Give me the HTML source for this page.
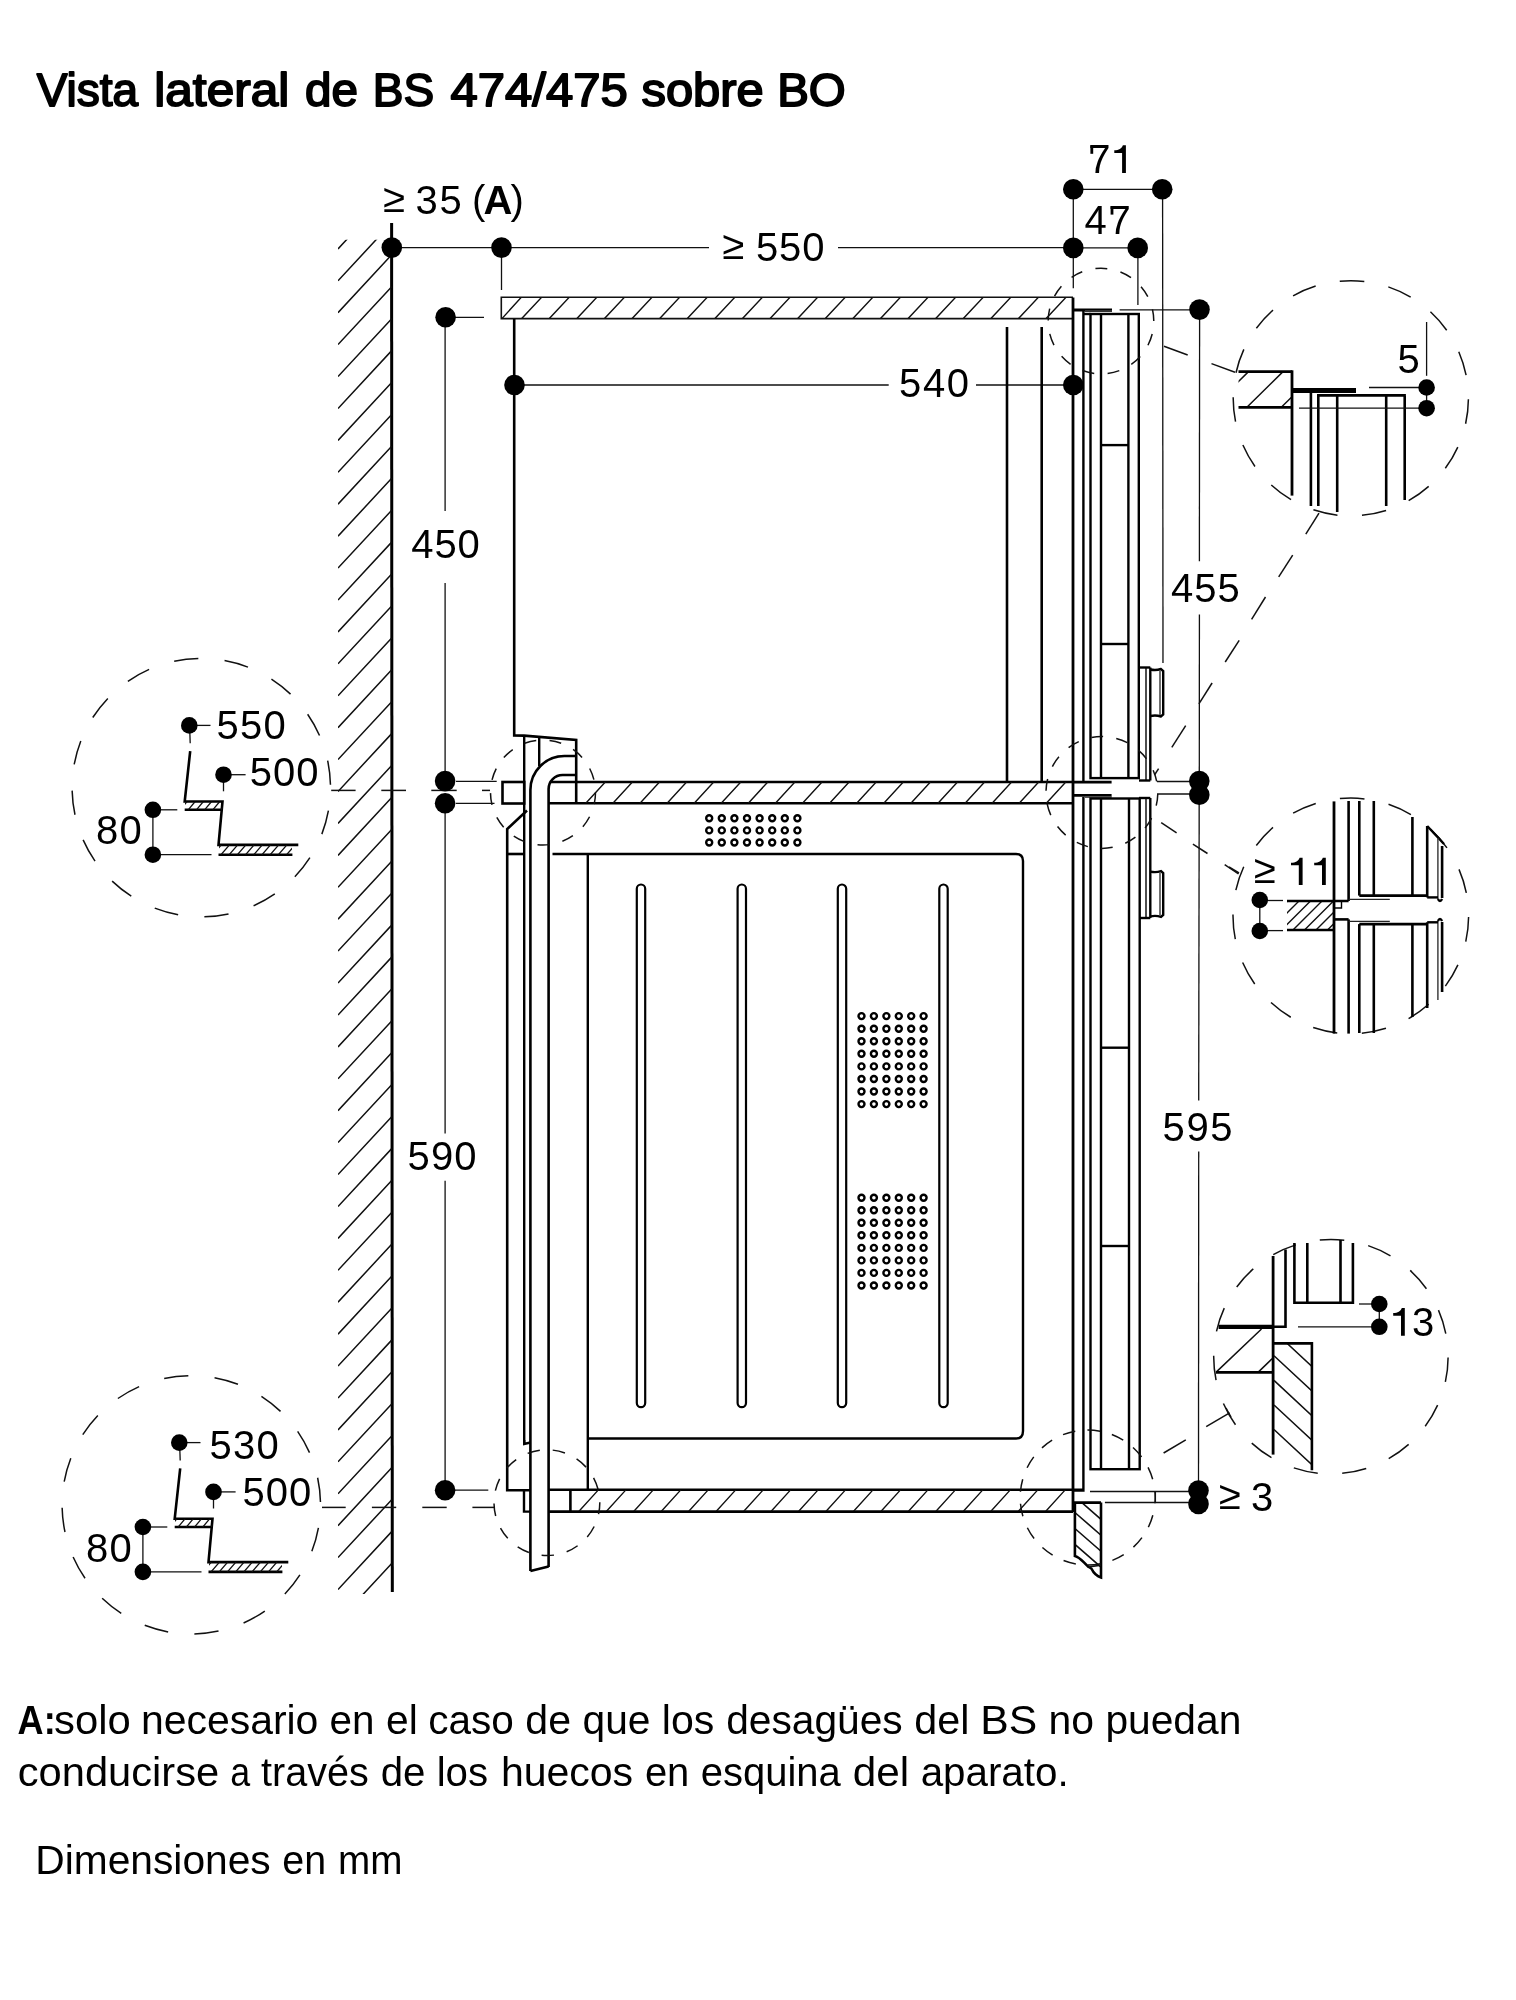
<!DOCTYPE html>
<html><head><meta charset="utf-8"><style>
html,body{margin:0;padding:0;background:#fff;}
svg{display:block;}
text{font-family:"Liberation Sans",sans-serif;fill:#000;}
svg{will-change:transform;}
</style></head><body>
<svg width="1516" height="2000" viewBox="0 0 1516 2000" stroke-linecap="butt">
<text x="36.7" y="105.9" font-size="46.00" textLength="101.4" lengthAdjust="spacingAndGlyphs" stroke="#000" stroke-width="1.8" stroke-linejoin="round">Vista</text>
<text x="154.3" y="105.9" font-size="46.00" textLength="135.0" lengthAdjust="spacingAndGlyphs" stroke="#000" stroke-width="1.8" stroke-linejoin="round">lateral</text>
<text x="305.1" y="105.9" font-size="46.00" textLength="52.9" lengthAdjust="spacingAndGlyphs" stroke="#000" stroke-width="1.8" stroke-linejoin="round">de</text>
<text x="372.8" y="105.9" font-size="46.00" textLength="61.3" lengthAdjust="spacingAndGlyphs" stroke="#000" stroke-width="1.8" stroke-linejoin="round">BS</text>
<text x="450.5" y="105.9" font-size="46.00" textLength="177.2" lengthAdjust="spacingAndGlyphs" stroke="#000" stroke-width="1.8" stroke-linejoin="round">474/475</text>
<text x="641.5" y="105.9" font-size="46.00" textLength="122.2" lengthAdjust="spacingAndGlyphs" stroke="#000" stroke-width="1.8" stroke-linejoin="round">sobre</text>
<text x="777.2" y="105.9" font-size="46.00" textLength="68.6" lengthAdjust="spacingAndGlyphs" stroke="#000" stroke-width="1.8" stroke-linejoin="round">BO</text>
<line x1="391.6" y1="223" x2="392.3" y2="1592" stroke="#000" stroke-width="3"/>
<clipPath id="wc"><rect x="338" y="239.7" width="53.7" height="1354.3"/></clipPath>
<path d="M338,185.0L391.7,127.1M338,217.0L391.7,159.1M338,248.9L391.7,191.0M338,280.8L391.7,222.9M338,312.7L391.7,254.8M338,344.6L391.7,286.7M338,376.6L391.7,318.7M338,408.5L391.7,350.6M338,440.4L391.7,382.5M338,472.3L391.7,414.4M338,504.2L391.7,446.3M338,536.2L391.7,478.3M338,568.1L391.7,510.2M338,600.0L391.7,542.1M338,631.9L391.7,574.0M338,663.8L391.7,605.9M338,695.8L391.7,637.9M338,727.7L391.7,669.8M338,759.6L391.7,701.7M338,791.5L391.7,733.6M338,823.4L391.7,765.5M338,855.4L391.7,797.5M338,887.3L391.7,829.4M338,919.2L391.7,861.3M338,951.1L391.7,893.2M338,983.0L391.7,925.1M338,1015.0L391.7,957.1M338,1046.9L391.7,989.0M338,1078.8L391.7,1020.9M338,1110.7L391.7,1052.8M338,1142.6L391.7,1084.7M338,1174.6L391.7,1116.7M338,1206.5L391.7,1148.6M338,1238.4L391.7,1180.5M338,1270.3L391.7,1212.4M338,1302.2L391.7,1244.3M338,1334.2L391.7,1276.3M338,1366.1L391.7,1308.2M338,1398.0L391.7,1340.1M338,1429.9L391.7,1372.0M338,1461.8L391.7,1403.9M338,1493.8L391.7,1435.9M338,1525.7L391.7,1467.8M338,1557.6L391.7,1499.7M338,1589.5L391.7,1531.6M338,1621.4L391.7,1563.5M338,1653.4L391.7,1595.5M338,1685.3L391.7,1627.4" stroke="#111" stroke-width="1.5" clip-path="url(#wc)"/>
<text x="383.3" y="212.1" font-size="40">≥</text>
<text x="415.5" y="214.2" font-size="40.00" textLength="46.3" lengthAdjust="spacing">35</text>
<text x="472.1" y="214.1" font-size="40.00" textLength="51.8" lengthAdjust="spacing">(<tspan font-weight="bold">A</tspan>)</text>
<line x1="391.8" y1="247.6" x2="709" y2="247.6" stroke="#111" stroke-width="1.3"/>
<text x="722.5" y="259.0" font-size="40">≥</text>
<text x="755.9" y="261.3" font-size="40.00" textLength="68.6" lengthAdjust="spacing">550</text>
<line x1="838" y1="247.6" x2="1073.3" y2="247.6" stroke="#111" stroke-width="1.3"/>
<line x1="501.5" y1="247.6" x2="501.5" y2="290" stroke="#111" stroke-width="1.3"/>
<line x1="1073.3" y1="189.3" x2="1162.2" y2="189.3" stroke="#111" stroke-width="1.3"/>
<line x1="1073.3" y1="247.9" x2="1137.7" y2="247.9" stroke="#111" stroke-width="1.3"/>
<text x="1088.3" y="173.0" font-size="40">7</text>
<rect x="1090.4" y="145.6" width="2.8" height="8.2" fill="#000"/>
<path d="M1125.9,145.3L1125.9,173.0L1122.1,173.0L1122.1,152.9L1114.3,152.9L1114.3,150.3C1119.1,150.3 1121.5,148.5 1122.9,145.3Z" fill="#000"/>
<text x="1084.6" y="233.7" font-size="40">4</text>
<text x="1108.5" y="233.7" font-size="40">7</text>
<rect x="1110.6" y="206.3" width="2.8" height="8.3" fill="#000"/>
<line x1="1073.3" y1="189.3" x2="1073.3" y2="288.3" stroke="#111" stroke-width="1.3"/>
<line x1="1137.9" y1="247.9" x2="1137.9" y2="305" stroke="#111" stroke-width="1.3"/>
<line x1="1162.6" y1="189.3" x2="1163" y2="663" stroke="#111" stroke-width="1.3"/>
<clipPath id="h1"><rect x="501.3" y="297.3" width="571" height="21.3"/></clipPath>
<path d="M501.9,318.6L521.3,297.3M521.7,318.6L541.6,297.3M549.3,318.6L569.2,297.3M576.9,318.6L596.8,297.3M604.5,318.6L624.4,297.3M632.1,318.6L652.0,297.3M659.7,318.6L679.6,297.3M687.3,318.6L707.2,297.3M714.9,318.6L734.8,297.3M742.5,318.6L762.4,297.3M770.1,318.6L790.0,297.3M797.7,318.6L817.6,297.3M825.3,318.6L845.2,297.3M852.9,318.6L872.8,297.3M880.5,318.6L900.4,297.3M908.1,318.6L928.0,297.3M935.7,318.6L955.6,297.3M963.3,318.6L983.2,297.3M990.9,318.6L1010.8,297.3M1018.5,318.6L1038.4,297.3M1046.1,318.6L1066.0,297.3M1073.7,318.6L1093.6,297.3" stroke="#111" stroke-width="1.4" clip-path="url(#h1)"/>
<polyline points="1073,297.3 501.3,297.3 501.3,318.6 1073,318.6" fill="none" stroke="#111" stroke-width="1.6"/>
<line x1="445.6" y1="317.3" x2="484" y2="317.3" stroke="#111" stroke-width="1.3"/>
<line x1="445.1" y1="317.3" x2="445.1" y2="511" stroke="#111" stroke-width="1.3"/>
<line x1="445.1" y1="583" x2="445.1" y2="781" stroke="#111" stroke-width="1.3"/>
<text x="411.2" y="558.1" font-size="40.00" textLength="68.6" lengthAdjust="spacing">450</text>
<line x1="514.5" y1="385" x2="888.7" y2="385" stroke="#111" stroke-width="1.3"/>
<text x="899.1" y="396.5" font-size="40.00" textLength="70.0" lengthAdjust="spacing">540</text>
<line x1="976" y1="385" x2="1073.3" y2="385" stroke="#111" stroke-width="1.3"/>
<polyline points="514.2,319 514.2,735.4 524,735.6 576.2,740 576.2,803.3" fill="none" stroke="#000" stroke-width="2.6" stroke-linejoin="miter"/>
<line x1="1007" y1="327" x2="1007" y2="781" stroke="#000" stroke-width="2.6"/>
<line x1="1041.7" y1="327" x2="1041.7" y2="781" stroke="#000" stroke-width="2.6"/>
<line x1="524.2" y1="736" x2="524.2" y2="1444" stroke="#000" stroke-width="2.4"/>
<line x1="539.2" y1="737" x2="539.2" y2="766" stroke="#000" stroke-width="2.4"/>
<path d="M530.4,1571 L530.4,790 A34,34 0 0 1 564.4,756 L576.2,756" fill="none" stroke="#000" stroke-width="2.6"/>
<path d="M548.6,1567 L548.6,789 A14,14 0 0 1 562.6,775 L576.2,775" fill="none" stroke="#000" stroke-width="2.6"/>
<line x1="530.4" y1="1571" x2="548.6" y2="1566.5" stroke="#000" stroke-width="2.6"/>
<rect x="502.5" y="782" width="21.7" height="21.5" fill="none" stroke="#000" stroke-width="2.6"/>
<line x1="551" y1="782" x2="1073" y2="782" stroke="#000" stroke-width="2.6"/>
<line x1="548.6" y1="803.3" x2="1073" y2="803.3" stroke="#000" stroke-width="2.6"/>
<clipPath id="h2"><rect x="576.2" y="782" width="497" height="21.3"/></clipPath>
<path d="M585.8,803.3L605.3,782M612.9,803.3L632.4,782M640.0,803.3L659.5,782M667.1,803.3L686.6,782M694.2,803.3L713.7,782M721.2,803.3L740.8,782M748.3,803.3L767.8,782M775.4,803.3L794.9,782M802.5,803.3L822.0,782M829.6,803.3L849.1,782M856.7,803.3L876.2,782M883.8,803.3L903.3,782M910.9,803.3L930.4,782M938.0,803.3L957.5,782M965.1,803.3L984.6,782M992.1,803.3L1011.6,782M1019.2,803.3L1038.7,782M1046.3,803.3L1065.8,782M1073.4,803.3L1092.9,782" stroke="#111" stroke-width="1.4" clip-path="url(#h2)"/>
<line x1="445.1" y1="803.3" x2="445.1" y2="1133.6" stroke="#111" stroke-width="1.3"/>
<line x1="445.1" y1="1180.8" x2="445.1" y2="1490.2" stroke="#111" stroke-width="1.3"/>
<text x="407.4" y="1169.7" font-size="40.00" textLength="69.2" lengthAdjust="spacing">590</text>
<line x1="445.1" y1="1490.2" x2="488.3" y2="1490.2" stroke="#111" stroke-width="1.3"/>
<line x1="456" y1="781.3" x2="496.7" y2="781.3" stroke="#111" stroke-width="1.3"/>
<line x1="456" y1="803.4" x2="494.5" y2="803.4" stroke="#111" stroke-width="1.3"/>
<polyline points="527,810.5 507.2,829 507.2,1490.2 530.4,1490.2" fill="none" stroke="#000" stroke-width="2.6" stroke-linejoin="miter"/>
<line x1="507.2" y1="854" x2="524.2" y2="854" stroke="#000" stroke-width="2.6"/>
<path d="M552.5,854 L1016,854 Q1023,854 1023,861 L1023,1431 Q1023,1438.5 1016,1438.5 L587.8,1438.5" fill="none" stroke="#000" stroke-width="2.4"/>
<line x1="587.8" y1="854" x2="587.8" y2="1490" stroke="#000" stroke-width="2.4"/>
<polyline points="524,1490 524,1511.6 530.4,1511.6" fill="none" stroke="#000" stroke-width="2.4" stroke-linejoin="miter"/>
<polyline points="524.2,1440 524.2,1444 530.4,1442.5" fill="none" stroke="#000" stroke-width="2.4" stroke-linejoin="miter"/>
<path d="M636.8,1403 L636.8,888.7 A4.2,4.2 0 0 1 645.2,888.7 L645.2,1403 A4.2,4.2 0 0 1 636.8,1403 Z" fill="none" stroke="#000" stroke-width="2.2"/>
<path d="M737.6,1403 L737.6,888.7 A4.2,4.2 0 0 1 746.0,888.7 L746.0,1403 A4.2,4.2 0 0 1 737.6,1403 Z" fill="none" stroke="#000" stroke-width="2.2"/>
<path d="M837.8,1403 L837.8,888.7 A4.2,4.2 0 0 1 846.2,888.7 L846.2,1403 A4.2,4.2 0 0 1 837.8,1403 Z" fill="none" stroke="#000" stroke-width="2.2"/>
<path d="M939.3,1403 L939.3,888.7 A4.2,4.2 0 0 1 947.7,888.7 L947.7,1403 A4.2,4.2 0 0 1 939.3,1403 Z" fill="none" stroke="#000" stroke-width="2.2"/>
<g fill="none" stroke="#000" stroke-width="2.4"><circle cx="709.2" cy="818.3" r="3"/><circle cx="709.2" cy="830.4" r="3"/><circle cx="709.2" cy="842.5" r="3"/><circle cx="721.8" cy="818.3" r="3"/><circle cx="721.8" cy="830.4" r="3"/><circle cx="721.8" cy="842.5" r="3"/><circle cx="734.4" cy="818.3" r="3"/><circle cx="734.4" cy="830.4" r="3"/><circle cx="734.4" cy="842.5" r="3"/><circle cx="747.0" cy="818.3" r="3"/><circle cx="747.0" cy="830.4" r="3"/><circle cx="747.0" cy="842.5" r="3"/><circle cx="759.6" cy="818.3" r="3"/><circle cx="759.6" cy="830.4" r="3"/><circle cx="759.6" cy="842.5" r="3"/><circle cx="772.2" cy="818.3" r="3"/><circle cx="772.2" cy="830.4" r="3"/><circle cx="772.2" cy="842.5" r="3"/><circle cx="784.8" cy="818.3" r="3"/><circle cx="784.8" cy="830.4" r="3"/><circle cx="784.8" cy="842.5" r="3"/><circle cx="797.4" cy="818.3" r="3"/><circle cx="797.4" cy="830.4" r="3"/><circle cx="797.4" cy="842.5" r="3"/><circle cx="861.5" cy="1016.1" r="3"/><circle cx="861.5" cy="1197.7" r="3"/><circle cx="861.5" cy="1028.7" r="3"/><circle cx="861.5" cy="1210.2" r="3"/><circle cx="861.5" cy="1041.2" r="3"/><circle cx="861.5" cy="1222.8" r="3"/><circle cx="861.5" cy="1053.8" r="3"/><circle cx="861.5" cy="1235.3" r="3"/><circle cx="861.5" cy="1066.4" r="3"/><circle cx="861.5" cy="1247.9" r="3"/><circle cx="861.5" cy="1079.0" r="3"/><circle cx="861.5" cy="1260.4" r="3"/><circle cx="861.5" cy="1091.5" r="3"/><circle cx="861.5" cy="1272.9" r="3"/><circle cx="861.5" cy="1104.1" r="3"/><circle cx="861.5" cy="1285.5" r="3"/><circle cx="873.9" cy="1016.1" r="3"/><circle cx="873.9" cy="1197.7" r="3"/><circle cx="873.9" cy="1028.7" r="3"/><circle cx="873.9" cy="1210.2" r="3"/><circle cx="873.9" cy="1041.2" r="3"/><circle cx="873.9" cy="1222.8" r="3"/><circle cx="873.9" cy="1053.8" r="3"/><circle cx="873.9" cy="1235.3" r="3"/><circle cx="873.9" cy="1066.4" r="3"/><circle cx="873.9" cy="1247.9" r="3"/><circle cx="873.9" cy="1079.0" r="3"/><circle cx="873.9" cy="1260.4" r="3"/><circle cx="873.9" cy="1091.5" r="3"/><circle cx="873.9" cy="1272.9" r="3"/><circle cx="873.9" cy="1104.1" r="3"/><circle cx="873.9" cy="1285.5" r="3"/><circle cx="886.4" cy="1016.1" r="3"/><circle cx="886.4" cy="1197.7" r="3"/><circle cx="886.4" cy="1028.7" r="3"/><circle cx="886.4" cy="1210.2" r="3"/><circle cx="886.4" cy="1041.2" r="3"/><circle cx="886.4" cy="1222.8" r="3"/><circle cx="886.4" cy="1053.8" r="3"/><circle cx="886.4" cy="1235.3" r="3"/><circle cx="886.4" cy="1066.4" r="3"/><circle cx="886.4" cy="1247.9" r="3"/><circle cx="886.4" cy="1079.0" r="3"/><circle cx="886.4" cy="1260.4" r="3"/><circle cx="886.4" cy="1091.5" r="3"/><circle cx="886.4" cy="1272.9" r="3"/><circle cx="886.4" cy="1104.1" r="3"/><circle cx="886.4" cy="1285.5" r="3"/><circle cx="898.8" cy="1016.1" r="3"/><circle cx="898.8" cy="1197.7" r="3"/><circle cx="898.8" cy="1028.7" r="3"/><circle cx="898.8" cy="1210.2" r="3"/><circle cx="898.8" cy="1041.2" r="3"/><circle cx="898.8" cy="1222.8" r="3"/><circle cx="898.8" cy="1053.8" r="3"/><circle cx="898.8" cy="1235.3" r="3"/><circle cx="898.8" cy="1066.4" r="3"/><circle cx="898.8" cy="1247.9" r="3"/><circle cx="898.8" cy="1079.0" r="3"/><circle cx="898.8" cy="1260.4" r="3"/><circle cx="898.8" cy="1091.5" r="3"/><circle cx="898.8" cy="1272.9" r="3"/><circle cx="898.8" cy="1104.1" r="3"/><circle cx="898.8" cy="1285.5" r="3"/><circle cx="911.2" cy="1016.1" r="3"/><circle cx="911.2" cy="1197.7" r="3"/><circle cx="911.2" cy="1028.7" r="3"/><circle cx="911.2" cy="1210.2" r="3"/><circle cx="911.2" cy="1041.2" r="3"/><circle cx="911.2" cy="1222.8" r="3"/><circle cx="911.2" cy="1053.8" r="3"/><circle cx="911.2" cy="1235.3" r="3"/><circle cx="911.2" cy="1066.4" r="3"/><circle cx="911.2" cy="1247.9" r="3"/><circle cx="911.2" cy="1079.0" r="3"/><circle cx="911.2" cy="1260.4" r="3"/><circle cx="911.2" cy="1091.5" r="3"/><circle cx="911.2" cy="1272.9" r="3"/><circle cx="911.2" cy="1104.1" r="3"/><circle cx="911.2" cy="1285.5" r="3"/><circle cx="923.6" cy="1016.1" r="3"/><circle cx="923.6" cy="1197.7" r="3"/><circle cx="923.6" cy="1028.7" r="3"/><circle cx="923.6" cy="1210.2" r="3"/><circle cx="923.6" cy="1041.2" r="3"/><circle cx="923.6" cy="1222.8" r="3"/><circle cx="923.6" cy="1053.8" r="3"/><circle cx="923.6" cy="1235.3" r="3"/><circle cx="923.6" cy="1066.4" r="3"/><circle cx="923.6" cy="1247.9" r="3"/><circle cx="923.6" cy="1079.0" r="3"/><circle cx="923.6" cy="1260.4" r="3"/><circle cx="923.6" cy="1091.5" r="3"/><circle cx="923.6" cy="1272.9" r="3"/><circle cx="923.6" cy="1104.1" r="3"/><circle cx="923.6" cy="1285.5" r="3"/></g>
<line x1="548.6" y1="1489.8" x2="1083" y2="1489.8" stroke="#000" stroke-width="2.6"/>
<line x1="548.6" y1="1511.6" x2="1073" y2="1511.6" stroke="#000" stroke-width="2.6"/>
<line x1="570.4" y1="1489.8" x2="570.4" y2="1511.6" stroke="#000" stroke-width="2.6"/>
<clipPath id="h3"><rect x="570.4" y="1489.8" width="503" height="21.8"/></clipPath>
<path d="M579.0,1511.2L598.4,1489.9M606.5,1511.2L625.9,1489.9M633.9,1511.2L653.3,1489.9M661.4,1511.2L680.8,1489.9M688.8,1511.2L708.2,1489.9M716.3,1511.2L735.7,1489.9M743.8,1511.2L763.2,1489.9M771.2,1511.2L790.6,1489.9M798.7,1511.2L818.1,1489.9M826.1,1511.2L845.5,1489.9M853.6,1511.2L873.0,1489.9M881.1,1511.2L900.5,1489.9M908.5,1511.2L927.9,1489.9M936.0,1511.2L955.4,1489.9M963.4,1511.2L982.8,1489.9M990.9,1511.2L1010.3,1489.9M1018.4,1511.2L1037.8,1489.9M1045.8,1511.2L1065.2,1489.9M1073.3,1511.2L1092.7,1489.9" stroke="#111" stroke-width="1.4" clip-path="url(#h3)"/>
<line x1="1073" y1="297.4" x2="1073" y2="1512" stroke="#000" stroke-width="2.8"/>
<line x1="1073" y1="309.9" x2="1112" y2="309.9" stroke="#000" stroke-width="3"/>
<line x1="1085" y1="311" x2="1112" y2="311" stroke="#333" stroke-width="2"/>
<line x1="1083.4" y1="310" x2="1083.4" y2="782" stroke="#000" stroke-width="2.4"/>
<rect x="1090.5" y="314" width="48.3" height="464.1" fill="none" stroke="#000" stroke-width="2.4"/>
<line x1="1101" y1="314" x2="1101" y2="778" stroke="#000" stroke-width="2.4"/>
<line x1="1128.4" y1="314" x2="1128.4" y2="778" stroke="#000" stroke-width="2.4"/>
<line x1="1073" y1="782.1" x2="1111.6" y2="782.1" stroke="#000" stroke-width="2.6"/>
<line x1="1083.4" y1="314" x2="1090.5" y2="314" stroke="#000" stroke-width="2.4"/>
<line x1="1101" y1="445.1" x2="1128.4" y2="445.1" stroke="#000" stroke-width="2.4"/>
<line x1="1101" y1="644" x2="1128.4" y2="644" stroke="#000" stroke-width="2.4"/>
<polyline points="1073,795.4 1111.6,795.4" fill="none" stroke="#000" stroke-width="2.6" stroke-linejoin="miter"/>
<line x1="1085" y1="797.2" x2="1111.6" y2="797.2" stroke="#555" stroke-width="1.6"/>
<polyline points="1083.4,797 1083.4,1490.6 1073,1490.6" fill="none" stroke="#000" stroke-width="2.4" stroke-linejoin="miter"/>
<rect x="1090.5" y="798.5" width="49.2" height="670.7" fill="none" stroke="#000" stroke-width="2.4"/>
<line x1="1101" y1="798.5" x2="1101" y2="1469.2" stroke="#000" stroke-width="2.4"/>
<line x1="1129" y1="798.5" x2="1129" y2="1469.2" stroke="#000" stroke-width="2.4"/>
<line x1="1101" y1="1047.7" x2="1129" y2="1047.7" stroke="#000" stroke-width="2.4"/>
<line x1="1101" y1="1246" x2="1129" y2="1246" stroke="#000" stroke-width="2.4"/>
<line x1="1146" y1="667.5" x2="1146" y2="780.5" stroke="#222" stroke-width="1.6"/>
<line x1="1150.3" y1="667.5" x2="1150.3" y2="780.5" stroke="#000" stroke-width="2.4"/>
<line x1="1139" y1="667.5" x2="1150.3" y2="667.5" stroke="#000" stroke-width="2.4"/>
<line x1="1139" y1="780.5" x2="1150.3" y2="780.5" stroke="#000" stroke-width="2.4"/>
<path d="M1150.3,669.5 Q1156,670.7 1161,669.0 L1163.2,671.0 L1163.2,714.5 L1161,716.5 Q1156,714.8 1150.3,716" fill="none" stroke="#000" stroke-width="2.4"/>
<line x1="1160" y1="670.5" x2="1160" y2="715" stroke="#333" stroke-width="1.4"/>
<line x1="1146" y1="798" x2="1146" y2="918" stroke="#222" stroke-width="1.6"/>
<line x1="1150.3" y1="798" x2="1150.3" y2="918" stroke="#000" stroke-width="2.4"/>
<line x1="1139" y1="798" x2="1150.3" y2="798" stroke="#000" stroke-width="2.4"/>
<line x1="1139" y1="918" x2="1150.3" y2="918" stroke="#000" stroke-width="2.4"/>
<path d="M1150.3,871.6 Q1156,872.8000000000001 1161,871.1 L1163.2,873.1 L1163.2,914.9 L1161,916.9 Q1156,915.1999999999999 1150.3,916.4" fill="none" stroke="#000" stroke-width="2.4"/>
<line x1="1160" y1="872.6" x2="1160" y2="915.4" stroke="#333" stroke-width="1.4"/>
<clipPath id="h4"><polygon points="1074.9,1502.6 1101,1502.6 1101,1577.4 1091.4,1568 1088.6,1566.9 1074.9,1555.9"/></clipPath>
<path d="M1074.9,1496.5L1101,1519.3M1074.9,1512.5L1101,1535.2M1074.9,1528.5L1101,1551.2M1074.9,1544.4L1101,1567.1" stroke="#111" stroke-width="1.6" clip-path="url(#h4)"/>
<path d="M1101,1502.6 L1074.9,1502.6 L1074.9,1555.9 C1080,1557 1083,1562 1088.6,1566.9 C1090.5,1568 1091.4,1568 1092,1569.5 C1094,1574 1097,1576 1101,1577.4 L1101,1502.6" fill="none" stroke="#000" stroke-width="2.6"/>
<line x1="1088.6" y1="1566.9" x2="1100.7" y2="1565.2" stroke="#111" stroke-width="1.6"/>
<line x1="1119.6" y1="309.9" x2="1199.5" y2="309.9" stroke="#111" stroke-width="1.3"/>
<line x1="1199.6" y1="309.6" x2="1199.4" y2="561.2" stroke="#111" stroke-width="1.3"/>
<line x1="1199.4" y1="614.4" x2="1199.3" y2="781" stroke="#111" stroke-width="1.3"/>
<text x="1170.9" y="602.4" font-size="40.00" textLength="68.9" lengthAdjust="spacing">455</text>
<line x1="1157" y1="781.5" x2="1199.3" y2="781.5" stroke="#111" stroke-width="1.3"/>
<line x1="1157" y1="794" x2="1199.3" y2="794" stroke="#111" stroke-width="1.3"/>
<line x1="1199.2" y1="794.8" x2="1198.7" y2="1100.5" stroke="#111" stroke-width="1.3"/>
<line x1="1198.7" y1="1151.5" x2="1198.5" y2="1490" stroke="#111" stroke-width="1.3"/>
<text x="1162.6" y="1140.5" font-size="40.00" textLength="69.8" lengthAdjust="spacing">595</text>
<line x1="1090" y1="1491.5" x2="1198.5" y2="1491.5" stroke="#111" stroke-width="1.3"/>
<line x1="1104.9" y1="1502.5" x2="1198.5" y2="1502.5" stroke="#111" stroke-width="1.3"/>
<line x1="1155.4" y1="1491.5" x2="1155.4" y2="1503" stroke="#111" stroke-width="1.3"/>
<text x="1219.1" y="1509.1" font-size="40">≥</text>
<text x="1251.0" y="1510.9" font-size="40">3</text>
<circle cx="1101" cy="321.1" r="52.8" fill="none" stroke="#111" stroke-width="1.5" stroke-dasharray="11.99 13.53" stroke-dashoffset="12.43"/>
<circle cx="1101.9" cy="792.5" r="55.9" fill="none" stroke="#111" stroke-width="1.5" stroke-dasharray="11.79 13.30" stroke-dashoffset="23.53"/>
<circle cx="543" cy="792.5" r="52.5" fill="none" stroke="#111" stroke-width="1.5" stroke-dasharray="11.93 13.45" stroke-dashoffset="0.18"/>
<circle cx="546.9" cy="1502.7" r="52.9" fill="none" stroke="#111" stroke-width="1.5" stroke-dasharray="12.53 13.04" stroke-dashoffset="0.92"/>
<circle cx="1087.7" cy="1497.5" r="67.5" fill="none" stroke="#111" stroke-width="1.5" stroke-dasharray="12.72 12.22" stroke-dashoffset="6.92"/>
<line x1="1164" y1="346.2" x2="1187.7" y2="355" stroke="#111" stroke-width="1.5"/>
<line x1="1211.5" y1="363.6" x2="1235" y2="372.2" stroke="#111" stroke-width="1.5"/>
<line x1="1319" y1="513.2" x2="1305.8" y2="534.2" stroke="#111" stroke-width="1.5"/>
<line x1="1292.7" y1="555.1" x2="1278.7" y2="576.8" stroke="#111" stroke-width="1.5"/>
<line x1="1265.5" y1="597" x2="1251.6" y2="619.4" stroke="#111" stroke-width="1.5"/>
<line x1="1239.2" y1="640.3" x2="1225.2" y2="662" stroke="#111" stroke-width="1.5"/>
<line x1="1212.1" y1="683" x2="1198.9" y2="703.9" stroke="#111" stroke-width="1.5"/>
<line x1="1185.7" y1="725.6" x2="1171.8" y2="747.3" stroke="#111" stroke-width="1.5"/>
<line x1="1158.6" y1="768.6" x2="1154.5" y2="775" stroke="#111" stroke-width="1.5"/>
<line x1="1161.2" y1="822.6" x2="1176.6" y2="832.9" stroke="#111" stroke-width="1.5"/>
<line x1="1192.9" y1="844.1" x2="1207.5" y2="853.5" stroke="#111" stroke-width="1.5"/>
<line x1="1224.7" y1="864.7" x2="1238.5" y2="874" stroke="#111" stroke-width="1.5"/>
<line x1="1163.6" y1="1453" x2="1185.8" y2="1439.8" stroke="#111" stroke-width="1.5"/>
<line x1="1206.2" y1="1426.6" x2="1229.6" y2="1412.8" stroke="#111" stroke-width="1.5"/>
<line x1="1226" y1="1408" x2="1231" y2="1417" stroke="#111" stroke-width="1.5"/>
<line x1="1229" y1="867" x2="1239" y2="873" stroke="#111" stroke-width="1.5"/>
<line x1="331.2" y1="790.4" x2="355.6" y2="790.4" stroke="#111" stroke-width="1.5"/>
<line x1="381.3" y1="790.4" x2="406" y2="790.4" stroke="#111" stroke-width="1.5"/>
<line x1="431.3" y1="790.4" x2="456.7" y2="790.4" stroke="#111" stroke-width="1.5"/>
<line x1="482" y1="790.4" x2="490" y2="790.4" stroke="#111" stroke-width="1.5"/>
<line x1="322" y1="1507.4" x2="345.7" y2="1507.4" stroke="#111" stroke-width="1.5"/>
<line x1="371.9" y1="1507.4" x2="396.2" y2="1507.4" stroke="#111" stroke-width="1.5"/>
<line x1="422.3" y1="1507.4" x2="446.7" y2="1507.4" stroke="#111" stroke-width="1.5"/>
<line x1="472.4" y1="1507.4" x2="494.2" y2="1507.4" stroke="#111" stroke-width="1.5"/>
<circle cx="1350.8" cy="398.3" r="117.6" fill="none" stroke="#111" stroke-width="1.5" stroke-dasharray="24.63 24.63" stroke-dashoffset="48.23"/>
<clipPath id="h5"><rect x="1238.5" y="371.6" width="53.5" height="35.7"/></clipPath>
<path d="M1246.9,407.3L1282.5,372.1M1281.3,407.3L1316.9,372.1M1212.5,407.3L1248,372.1" stroke="#111" stroke-width="1.5" clip-path="url(#h5)"/>
<line x1="1238.5" y1="371.6" x2="1292" y2="371.6" stroke="#000" stroke-width="2.8"/>
<line x1="1238.5" y1="407.3" x2="1292" y2="407.3" stroke="#000" stroke-width="2.8"/>
<line x1="1292" y1="370.3" x2="1292" y2="495.6" stroke="#000" stroke-width="2.8"/>
<line x1="1292" y1="390.5" x2="1356" y2="390.5" stroke="#000" stroke-width="5"/>
<line x1="1317" y1="395.4" x2="1405.9" y2="395.4" stroke="#000" stroke-width="2.6"/>
<line x1="1310.9" y1="392" x2="1310.9" y2="506" stroke="#000" stroke-width="2.6"/>
<line x1="1318.3" y1="396" x2="1318.3" y2="506" stroke="#000" stroke-width="2.6"/>
<line x1="1337.2" y1="396" x2="1337.2" y2="512" stroke="#000" stroke-width="2.6"/>
<line x1="1386.2" y1="396" x2="1386.2" y2="506" stroke="#000" stroke-width="2.6"/>
<line x1="1404.7" y1="396" x2="1404.7" y2="500" stroke="#000" stroke-width="2.6"/>
<line x1="1369" y1="387.5" x2="1426.6" y2="387.5" stroke="#111" stroke-width="1.3"/>
<line x1="1299" y1="408.2" x2="1426.6" y2="408.2" stroke="#111" stroke-width="1.3"/>
<line x1="1426.6" y1="322" x2="1426.6" y2="375.8" stroke="#111" stroke-width="1.3"/>
<line x1="1426.6" y1="387.5" x2="1426.6" y2="408.2" stroke="#111" stroke-width="1.3"/>
<text x="1397.4" y="372.5" font-size="40.00" textLength="23.2" lengthAdjust="spacing">5</text>
<circle cx="1350.8" cy="915.9" r="117.8" fill="none" stroke="#111" stroke-width="1.5" stroke-dasharray="24.67 24.67" stroke-dashoffset="48.11"/>
<clipPath id="h6"><rect x="1287" y="901" width="47" height="29"/></clipPath>
<path d="M1247.0,930L1276.0,901M1258.5,930L1287.5,901M1270.0,930L1299.0,901M1281.5,930L1310.5,901M1293.0,930L1322.0,901M1304.5,930L1333.5,901M1316.0,930L1345.0,901M1327.5,930L1356.5,901M1339.0,930L1368.0,901" stroke="#111" stroke-width="1.4" clip-path="url(#h6)"/>
<line x1="1287" y1="901" x2="1348.6" y2="901" stroke="#000" stroke-width="2.6"/>
<line x1="1287" y1="930" x2="1334" y2="930" stroke="#000" stroke-width="2.6"/>
<line x1="1334" y1="801.4" x2="1334" y2="1033.6" stroke="#000" stroke-width="2.8"/>
<line x1="1348.6" y1="801" x2="1348.6" y2="901" stroke="#000" stroke-width="2.6"/>
<line x1="1348.6" y1="919.4" x2="1348.6" y2="1033.6" stroke="#000" stroke-width="2.6"/>
<line x1="1334" y1="919.4" x2="1348.6" y2="919.4" stroke="#000" stroke-width="2.6"/>
<line x1="1359.3" y1="801" x2="1359.3" y2="895.6" stroke="#000" stroke-width="2.6"/>
<line x1="1359.3" y1="924.1" x2="1359.3" y2="1033" stroke="#000" stroke-width="2.6"/>
<line x1="1373.8" y1="801" x2="1373.8" y2="895.6" stroke="#000" stroke-width="2.6"/>
<line x1="1373.8" y1="924.1" x2="1373.8" y2="1033" stroke="#000" stroke-width="2.6"/>
<line x1="1412.4" y1="817" x2="1412.4" y2="895.6" stroke="#000" stroke-width="2.6"/>
<line x1="1412.4" y1="924.1" x2="1412.4" y2="1017" stroke="#000" stroke-width="2.6"/>
<line x1="1359.3" y1="895.6" x2="1427.2" y2="895.6" stroke="#000" stroke-width="2.6"/>
<line x1="1359.3" y1="924.1" x2="1427.2" y2="924.1" stroke="#000" stroke-width="2.6"/>
<line x1="1427.2" y1="826" x2="1427.2" y2="897.4" stroke="#000" stroke-width="2.6"/>
<line x1="1427.2" y1="922.3" x2="1427.2" y2="1008" stroke="#000" stroke-width="2.6"/>
<line x1="1427.2" y1="826" x2="1444" y2="844" stroke="#000" stroke-width="2.4"/>
<line x1="1442.1" y1="846" x2="1442.1" y2="898" stroke="#000" stroke-width="2.6"/>
<line x1="1442.1" y1="922" x2="1442.1" y2="992" stroke="#000" stroke-width="2.6"/>
<line x1="1437.9" y1="838" x2="1437.9" y2="899" stroke="#333" stroke-width="1.4"/>
<line x1="1437.9" y1="921" x2="1437.9" y2="1000" stroke="#333" stroke-width="1.4"/>
<line x1="1427.2" y1="897.4" x2="1438" y2="897.4" stroke="#000" stroke-width="2.4"/>
<line x1="1427.2" y1="922.3" x2="1438" y2="922.3" stroke="#000" stroke-width="2.4"/>
<path d="M1437.9,899 Q1440,903 1442.1,899" fill="none" stroke="#000" stroke-width="2.4"/>
<path d="M1437.9,921 Q1440,917 1442.1,921" fill="none" stroke="#000" stroke-width="2.4"/>
<line x1="1348.6" y1="899.3" x2="1389.8" y2="899.3" stroke="#222" stroke-width="1.3"/>
<line x1="1348.6" y1="921.3" x2="1389.8" y2="921.3" stroke="#222" stroke-width="1.3"/>
<polyline points="1334,908 1341.5,908 1341.5,901" fill="none" stroke="#000" stroke-width="1.4" stroke-linejoin="miter"/>
<line x1="1259.8" y1="900" x2="1259.8" y2="931" stroke="#111" stroke-width="1.3"/>
<line x1="1259.8" y1="900.5" x2="1283" y2="900.5" stroke="#111" stroke-width="1.3"/>
<line x1="1259.8" y1="930.6" x2="1283" y2="930.6" stroke="#111" stroke-width="1.3"/>
<text x="1254.1" y="883.2" font-size="40">≥</text>
<path d="M1302.6,857.7L1302.6,885.1L1298.8,885.1L1298.8,865.3L1291.0,865.3L1291.0,862.7C1295.8,862.7 1298.2,860.9 1299.6,857.7Z" fill="#000"/>
<path d="M1325.8,857.7L1325.8,885.1L1322.0,885.1L1322.0,865.3L1314.2,865.3L1314.2,862.7C1319.0,862.7 1321.4,860.9 1322.8,857.7Z" fill="#000"/>
<circle cx="1330.9" cy="1356.7" r="117.2" fill="none" stroke="#111" stroke-width="1.5" stroke-dasharray="24.55 24.55" stroke-dashoffset="48.27"/>
<clipPath id="h7"><rect x="1215.9" y="1326.8" width="57.1" height="45.6"/></clipPath>
<path d="M1215.9,1372.4L1261.5,1329M1258,1372.4L1303,1329" stroke="#111" stroke-width="1.5" clip-path="url(#h7)"/>
<line x1="1215.9" y1="1372.4" x2="1273" y2="1372.4" stroke="#000" stroke-width="2.6"/>
<line x1="1218.6" y1="1326.8" x2="1273" y2="1326.8" stroke="#000" stroke-width="4.2"/>
<line x1="1273.1" y1="1256" x2="1273.1" y2="1454.6" stroke="#000" stroke-width="2.8"/>
<polyline points="1285.5,1249.6 1285.5,1326.8 1273.1,1326.8" fill="none" stroke="#000" stroke-width="2.6" stroke-linejoin="miter"/>
<clipPath id="h8"><rect x="1274" y="1343.4" width="37.9" height="126.9"/></clipPath>
<path d="M1274,1331.2L1311.9,1366.4M1274,1355.8L1311.9,1391.0M1274,1380.4L1311.9,1415.6M1274,1405.0L1311.9,1440.2M1274,1429.6L1311.9,1464.8" stroke="#111" stroke-width="1.5" clip-path="url(#h8)"/>
<polyline points="1274,1343.4 1311.9,1343.4 1311.9,1470.3" fill="none" stroke="#000" stroke-width="2.6" stroke-linejoin="miter"/>
<polyline points="1294.4,1243 1294.4,1302.7 1352.9,1302.7 1352.9,1243" fill="none" stroke="#000" stroke-width="2.6" stroke-linejoin="miter"/>
<line x1="1307.3" y1="1243" x2="1307.3" y2="1302.7" stroke="#000" stroke-width="2.6"/>
<line x1="1340.5" y1="1240" x2="1340.5" y2="1302.7" stroke="#000" stroke-width="2.6"/>
<line x1="1379.3" y1="1304" x2="1379.3" y2="1326.8" stroke="#111" stroke-width="1.3"/>
<line x1="1359" y1="1304" x2="1379.3" y2="1304" stroke="#111" stroke-width="1.3"/>
<line x1="1298" y1="1326.8" x2="1379.3" y2="1326.8" stroke="#111" stroke-width="1.3"/>
<path d="M1404.8,1308.1L1404.8,1335.8L1401.0,1335.8L1401.0,1315.7L1393.2,1315.7L1393.2,1313.1C1398.0,1313.1 1400.4,1311.3 1401.8,1308.1Z" fill="#000"/>
<text x="1411.9" y="1335.6" font-size="40">3</text>
<circle cx="201.3" cy="787.6" r="129.2" fill="none" stroke="#111" stroke-width="1.5" stroke-dasharray="24.35 26.38" stroke-dashoffset="27.51"/>
<line x1="189.3" y1="725.4" x2="210.5" y2="725.4" stroke="#111" stroke-width="1.3"/>
<text x="216.4" y="738.7" font-size="40.00" textLength="69.3" lengthAdjust="spacing">550</text>
<line x1="189.6" y1="725.4" x2="190.2" y2="743.3" stroke="#111" stroke-width="1.3"/>
<polyline points="190.2,751.2 184.7,801.5 222.5,801.5 218.5,844.9 298.3,844.9" fill="none" stroke="#000" stroke-width="2.6" stroke-linejoin="miter"/>
<polyline points="184.7,809.8 222.5,809.8" fill="none" stroke="#000" stroke-width="2.6" stroke-linejoin="miter"/>
<polyline points="218.5,854.7 292.4,854.7" fill="none" stroke="#000" stroke-width="2.6" stroke-linejoin="miter"/>
<clipPath id="lh0a"><rect x="185" y="801.5" width="37.5" height="8.3"/></clipPath>
<clipPath id="lh0b"><rect x="219" y="844.9" width="73" height="9.8"/></clipPath>
<path d="M180.0,809.8L187.0,801.5M180.0,854.7L188.5,844.9M188.2,809.8L195.2,801.5M188.2,854.7L196.7,844.9M196.4,809.8L203.4,801.5M196.4,854.7L204.9,844.9M204.6,809.8L211.6,801.5M204.6,854.7L213.1,844.9M212.8,809.8L219.8,801.5M212.8,854.7L221.3,844.9M221.0,809.8L228.0,801.5M221.0,854.7L229.5,844.9M229.2,809.8L236.2,801.5M229.2,854.7L237.7,844.9M237.4,809.8L244.4,801.5M237.4,854.7L245.9,844.9M245.6,809.8L252.6,801.5M245.6,854.7L254.1,844.9M253.8,809.8L260.8,801.5M253.8,854.7L262.3,844.9M262.0,809.8L269.0,801.5M262.0,854.7L270.5,844.9M270.2,809.8L277.2,801.5M270.2,854.7L278.7,844.9M278.4,809.8L285.4,801.5M278.4,854.7L286.9,844.9M286.6,809.8L293.6,801.5M286.6,854.7L295.1,844.9M294.8,809.8L301.8,801.5M294.8,854.7L303.3,844.9" stroke="#111" stroke-width="1.3" clip-path="url(#lh0a)"/>
<path d="M180.0,809.8L187.0,801.5M180.0,854.7L188.5,844.9M188.2,809.8L195.2,801.5M188.2,854.7L196.7,844.9M196.4,809.8L203.4,801.5M196.4,854.7L204.9,844.9M204.6,809.8L211.6,801.5M204.6,854.7L213.1,844.9M212.8,809.8L219.8,801.5M212.8,854.7L221.3,844.9M221.0,809.8L228.0,801.5M221.0,854.7L229.5,844.9M229.2,809.8L236.2,801.5M229.2,854.7L237.7,844.9M237.4,809.8L244.4,801.5M237.4,854.7L245.9,844.9M245.6,809.8L252.6,801.5M245.6,854.7L254.1,844.9M253.8,809.8L260.8,801.5M253.8,854.7L262.3,844.9M262.0,809.8L269.0,801.5M262.0,854.7L270.5,844.9M270.2,809.8L277.2,801.5M270.2,854.7L278.7,844.9M278.4,809.8L285.4,801.5M278.4,854.7L286.9,844.9M286.6,809.8L293.6,801.5M286.6,854.7L295.1,844.9M294.8,809.8L301.8,801.5M294.8,854.7L303.3,844.9" stroke="#111" stroke-width="1.3" clip-path="url(#lh0b)"/>
<line x1="223.5" y1="774.7" x2="245.6" y2="774.7" stroke="#111" stroke-width="1.3"/>
<line x1="223.5" y1="774.7" x2="223.5" y2="791.3" stroke="#111" stroke-width="1.3"/>
<text x="249.7" y="785.8" font-size="40.00" textLength="68.7" lengthAdjust="spacing">500</text>
<line x1="152.9" y1="809.8" x2="152.9" y2="854.7" stroke="#111" stroke-width="1.3"/>
<line x1="152.9" y1="809.8" x2="177.3" y2="809.8" stroke="#111" stroke-width="1.3"/>
<line x1="152.9" y1="854.7" x2="211.5" y2="854.7" stroke="#111" stroke-width="1.3"/>
<text x="96.1" y="844.3" font-size="40.00" textLength="45.7" lengthAdjust="spacing">80</text>
<circle cx="191.3" cy="1504.8" r="129.2" fill="none" stroke="#111" stroke-width="1.5" stroke-dasharray="24.35 26.38" stroke-dashoffset="27.51"/>
<line x1="179.3" y1="1442.6" x2="200.5" y2="1442.6" stroke="#111" stroke-width="1.3"/>
<text x="209.4" y="1458.7" font-size="40.00" textLength="69.3" lengthAdjust="spacing">530</text>
<line x1="179.6" y1="1442.6" x2="180.2" y2="1460.5" stroke="#111" stroke-width="1.3"/>
<polyline points="180.2,1468.4 174.7,1518.7 212.5,1518.7 208.5,1562.1 288.3,1562.1" fill="none" stroke="#000" stroke-width="2.6" stroke-linejoin="miter"/>
<polyline points="174.7,1527 212.5,1527" fill="none" stroke="#000" stroke-width="2.6" stroke-linejoin="miter"/>
<polyline points="208.5,1571.9 282.4,1571.9" fill="none" stroke="#000" stroke-width="2.6" stroke-linejoin="miter"/>
<clipPath id="lh717a"><rect x="175" y="1518.7" width="37.5" height="8.3"/></clipPath>
<clipPath id="lh717b"><rect x="209" y="1562.1" width="73" height="9.8"/></clipPath>
<path d="M170.0,1527.0L177.0,1518.7M170.0,1571.9L178.5,1562.1M178.2,1527.0L185.2,1518.7M178.2,1571.9L186.7,1562.1M186.4,1527.0L193.4,1518.7M186.4,1571.9L194.9,1562.1M194.6,1527.0L201.6,1518.7M194.6,1571.9L203.1,1562.1M202.8,1527.0L209.8,1518.7M202.8,1571.9L211.3,1562.1M211.0,1527.0L218.0,1518.7M211.0,1571.9L219.5,1562.1M219.2,1527.0L226.2,1518.7M219.2,1571.9L227.7,1562.1M227.4,1527.0L234.4,1518.7M227.4,1571.9L235.9,1562.1M235.6,1527.0L242.6,1518.7M235.6,1571.9L244.1,1562.1M243.8,1527.0L250.8,1518.7M243.8,1571.9L252.3,1562.1M252.0,1527.0L259.0,1518.7M252.0,1571.9L260.5,1562.1M260.2,1527.0L267.2,1518.7M260.2,1571.9L268.7,1562.1M268.4,1527.0L275.4,1518.7M268.4,1571.9L276.9,1562.1M276.6,1527.0L283.6,1518.7M276.6,1571.9L285.1,1562.1M284.8,1527.0L291.8,1518.7M284.8,1571.9L293.3,1562.1" stroke="#111" stroke-width="1.3" clip-path="url(#lh717a)"/>
<path d="M170.0,1527.0L177.0,1518.7M170.0,1571.9L178.5,1562.1M178.2,1527.0L185.2,1518.7M178.2,1571.9L186.7,1562.1M186.4,1527.0L193.4,1518.7M186.4,1571.9L194.9,1562.1M194.6,1527.0L201.6,1518.7M194.6,1571.9L203.1,1562.1M202.8,1527.0L209.8,1518.7M202.8,1571.9L211.3,1562.1M211.0,1527.0L218.0,1518.7M211.0,1571.9L219.5,1562.1M219.2,1527.0L226.2,1518.7M219.2,1571.9L227.7,1562.1M227.4,1527.0L234.4,1518.7M227.4,1571.9L235.9,1562.1M235.6,1527.0L242.6,1518.7M235.6,1571.9L244.1,1562.1M243.8,1527.0L250.8,1518.7M243.8,1571.9L252.3,1562.1M252.0,1527.0L259.0,1518.7M252.0,1571.9L260.5,1562.1M260.2,1527.0L267.2,1518.7M260.2,1571.9L268.7,1562.1M268.4,1527.0L275.4,1518.7M268.4,1571.9L276.9,1562.1M276.6,1527.0L283.6,1518.7M276.6,1571.9L285.1,1562.1M284.8,1527.0L291.8,1518.7M284.8,1571.9L293.3,1562.1" stroke="#111" stroke-width="1.3" clip-path="url(#lh717b)"/>
<line x1="213.5" y1="1491.9" x2="235.6" y2="1491.9" stroke="#111" stroke-width="1.3"/>
<line x1="213.5" y1="1491.9" x2="213.5" y2="1508.5" stroke="#111" stroke-width="1.3"/>
<text x="242.5" y="1506.3" font-size="40.00" textLength="68.7" lengthAdjust="spacing">500</text>
<line x1="142.9" y1="1527" x2="142.9" y2="1571.9" stroke="#111" stroke-width="1.3"/>
<line x1="142.9" y1="1527" x2="167.3" y2="1527" stroke="#111" stroke-width="1.3"/>
<line x1="142.9" y1="1571.9" x2="201.5" y2="1571.9" stroke="#111" stroke-width="1.3"/>
<text x="86.1" y="1561.5" font-size="40.00" textLength="45.7" lengthAdjust="spacing">80</text>
<text x="17.6" y="1733.6" font-size="40.00" font-weight="bold" textLength="38.1" lengthAdjust="spacingAndGlyphs">A:</text>
<text x="54.1" y="1733.6" font-size="40.00" textLength="76.7" lengthAdjust="spacingAndGlyphs">solo</text>
<text x="140.9" y="1733.6" font-size="40.00" textLength="177.5" lengthAdjust="spacingAndGlyphs">necesario</text>
<text x="329.6" y="1733.6" font-size="40.00" textLength="44.9" lengthAdjust="spacingAndGlyphs">en</text>
<text x="386" y="1733.6" font-size="40.00" textLength="31.7" lengthAdjust="spacingAndGlyphs">el</text>
<text x="428.2" y="1733.6" font-size="40.00" textLength="85.6" lengthAdjust="spacingAndGlyphs">caso</text>
<text x="525.3" y="1733.6" font-size="40.00" textLength="45.7" lengthAdjust="spacingAndGlyphs">de</text>
<text x="582.6" y="1733.6" font-size="40.00" textLength="67.9" lengthAdjust="spacingAndGlyphs">que</text>
<text x="661.8" y="1733.6" font-size="40.00" textLength="52.5" lengthAdjust="spacingAndGlyphs">los</text>
<text x="726.2" y="1733.6" font-size="40.00" textLength="176.5" lengthAdjust="spacingAndGlyphs">desagües</text>
<text x="914.3" y="1733.6" font-size="40.00" textLength="55.1" lengthAdjust="spacingAndGlyphs">del</text>
<text x="980.3" y="1733.6" font-size="40.00" textLength="56.9" lengthAdjust="spacingAndGlyphs">BS</text>
<text x="1048.4" y="1733.6" font-size="40.00" textLength="45.5" lengthAdjust="spacingAndGlyphs">no</text>
<text x="1105.4" y="1733.6" font-size="40.00" textLength="135.9" lengthAdjust="spacingAndGlyphs">puedan</text>
<text x="17.8" y="1786.2" font-size="40.00" textLength="201.4" lengthAdjust="spacingAndGlyphs">conducirse</text>
<text x="230.2" y="1786.2" font-size="40.00" textLength="19.9" lengthAdjust="spacingAndGlyphs">a</text>
<text x="261.1" y="1786.2" font-size="40.00" textLength="107.7" lengthAdjust="spacingAndGlyphs">través</text>
<text x="380.7" y="1786.2" font-size="40.00" textLength="44.7" lengthAdjust="spacingAndGlyphs">de</text>
<text x="436.7" y="1786.2" font-size="40.00" textLength="51.4" lengthAdjust="spacingAndGlyphs">los</text>
<text x="500.9" y="1786.2" font-size="40.00" textLength="132.2" lengthAdjust="spacingAndGlyphs">huecos</text>
<text x="644.9" y="1786.2" font-size="40.00" textLength="44.4" lengthAdjust="spacingAndGlyphs">en</text>
<text x="700.8" y="1786.2" font-size="40.00" textLength="140.0" lengthAdjust="spacingAndGlyphs">esquina</text>
<text x="852.8" y="1786.2" font-size="40.00" textLength="56.4" lengthAdjust="spacingAndGlyphs">del</text>
<text x="920.7" y="1786.2" font-size="40.00" textLength="147.9" lengthAdjust="spacingAndGlyphs">aparato.</text>
<text x="35.3" y="1874.3" font-size="40.00" textLength="235.4" lengthAdjust="spacingAndGlyphs">Dimensiones</text>
<text x="282.3" y="1874.3" font-size="40.00" textLength="43.8" lengthAdjust="spacingAndGlyphs">en</text>
<text x="338" y="1874.3" font-size="40.00" textLength="64.4" lengthAdjust="spacingAndGlyphs">mm</text>
<circle cx="391.8" cy="247.6" r="10.3" fill="#000"/>
<circle cx="501.5" cy="247.6" r="10.3" fill="#000"/>
<circle cx="1073.3" cy="189.3" r="10.3" fill="#000"/>
<circle cx="1162.2" cy="189.3" r="10.3" fill="#000"/>
<circle cx="1073.3" cy="247.9" r="10.3" fill="#000"/>
<circle cx="1137.7" cy="247.9" r="10.3" fill="#000"/>
<circle cx="445.6" cy="317.3" r="10.3" fill="#000"/>
<circle cx="514.5" cy="385" r="10.3" fill="#000"/>
<circle cx="1073.3" cy="385" r="10.3" fill="#000"/>
<circle cx="445.1" cy="803.3" r="10.3" fill="#000"/>
<circle cx="445.1" cy="1490.2" r="10.3" fill="#000"/>
<circle cx="445.1" cy="781.1" r="10.3" fill="#000"/>
<circle cx="1199.5" cy="309.6" r="10.3" fill="#000"/>
<circle cx="1199.3" cy="781.1" r="10.3" fill="#000"/>
<circle cx="1199.3" cy="794.8" r="10.3" fill="#000"/>
<circle cx="1198.5" cy="1490.6" r="10.3" fill="#000"/>
<circle cx="1198.5" cy="1503.9" r="10.3" fill="#000"/>
<circle cx="1426.6" cy="387.5" r="8.3" fill="#000"/>
<circle cx="1426.6" cy="408.2" r="8.3" fill="#000"/>
<circle cx="1259.8" cy="900" r="8.3" fill="#000"/>
<circle cx="1259.8" cy="931" r="8.3" fill="#000"/>
<circle cx="1379.3" cy="1304" r="8.3" fill="#000"/>
<circle cx="1379.3" cy="1326.8" r="8.3" fill="#000"/>
<circle cx="189.3" cy="725.4" r="8.3" fill="#000"/>
<circle cx="223.5" cy="774.7" r="8.3" fill="#000"/>
<circle cx="152.9" cy="809.8" r="8.3" fill="#000"/>
<circle cx="152.9" cy="854.7" r="8.3" fill="#000"/>
<circle cx="179.3" cy="1442.6" r="8.3" fill="#000"/>
<circle cx="213.5" cy="1491.9" r="8.3" fill="#000"/>
<circle cx="142.9" cy="1527" r="8.3" fill="#000"/>
<circle cx="142.9" cy="1571.9" r="8.3" fill="#000"/>
</svg>
</body></html>
